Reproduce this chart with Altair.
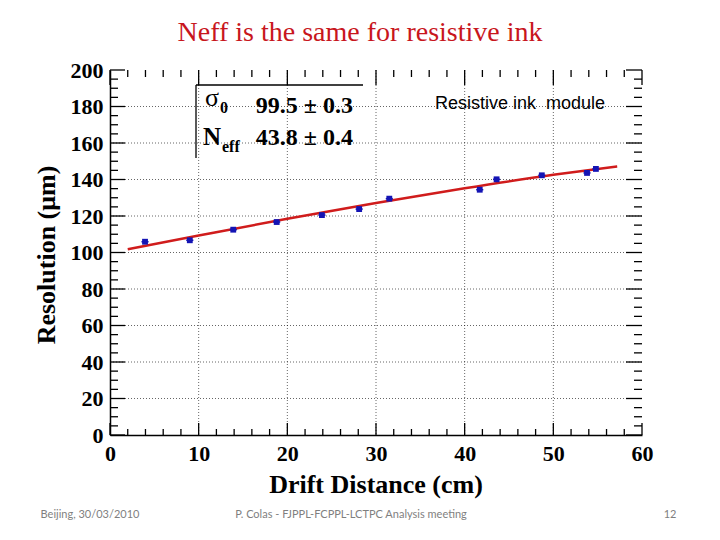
import altair as alt
import pandas as pd

# ---- data ----
drift = [3.95, 9.0, 13.9, 18.8, 23.9, 28.1, 31.5, 41.7, 43.6, 48.7, 53.8, 54.8]
resolution = [105.9, 106.7, 112.5, 116.7, 120.5, 123.8, 129.5, 134.4, 140.1, 142.3, 143.6, 145.8]
drift_err = [0.4] * 12

fit_drift = [2.0, 10.0, 20.0, 30.0, 40.0, 50.0, 57.2]
fit_resolution = [101.8, 109.3, 118.5, 127.1, 135.2, 142.6, 147.2]

x_major = [0, 10, 20, 30, 40, 50, 60]
x_minor = [v for v in range(0, 61, 2) if v % 10 != 0]
y_major = [0, 20, 40, 60, 80, 100, 120, 140, 160, 180, 200]
y_minor = [v for v in range(0, 201, 5) if v % 20 != 0]
x_grid = [10, 20, 30, 40, 50]
y_grid = [20, 40, 60, 80, 100, 120, 140, 160, 180]

W, H = 532, 365
SERIF = "Liberation Serif"
SANS = "Liberation Sans"

pts = pd.DataFrame({"d": drift, "r": resolution,
                    "lo": [a - e for a, e in zip(drift, drift_err)],
                    "hi": [a + e for a, e in zip(drift, drift_err)]})
fit = pd.DataFrame({"d": fit_drift, "r": fit_resolution})
one = pd.DataFrame({"k": [0]})

xs = alt.Scale(domain=[0, 60], nice=False, zero=False)
ys = alt.Scale(domain=[0, 200], nice=False, zero=False)

xaxis = alt.Axis(values=x_major, title=None, grid=False, ticks=False, tickSize=0,
                 domainColor="black", domainWidth=1.5, labelFont=SERIF, labelFontWeight="bold",
                 labelFontSize=22, labelColor="black", labelPadding=8, labelFlush=False,
                 labelOverlap=False)
yaxis = alt.Axis(values=y_major, title=None, grid=False, ticks=False, tickSize=0,
                 domainColor="black", domainWidth=1.5, labelFont=SERIF, labelFontWeight="bold",
                 labelFontSize=22, labelColor="black", labelPadding=7, labelFlush=False,
                 labelOverlap=False)


def df(vals):
    return pd.DataFrame({"v": vals})

def X(f):
    return alt.X(f, scale=xs, axis=xaxis)

def Y(f):
    return alt.Y(f, scale=ys, axis=yaxis)

base_axes = alt.Chart(pts).mark_point(opacity=0).encode(x=X("d:Q"), y=Y("r:Q"))

grid_style = dict(color="black", strokeDash=[1, 2], strokeWidth=1, opacity=0.6)
gx = alt.Chart(df(x_grid)).mark_rule(**grid_style).encode(x=X("v:Q"), y=alt.value(0), y2=alt.value(H))
gy = alt.Chart(df(y_grid)).mark_rule(**grid_style).encode(y=Y("v:Q"), x=alt.value(0), x2=alt.value(W))

tk = dict(color="black", strokeWidth=1.3)
ticks = [
    alt.Chart(df(y_major)).mark_rule(**tk).encode(y=Y("v:Q"), x=alt.value(0), x2=alt.value(15)),
    alt.Chart(df(y_minor)).mark_rule(**tk).encode(y=Y("v:Q"), x=alt.value(0), x2=alt.value(8)),
    alt.Chart(df(y_major)).mark_rule(**tk).encode(y=Y("v:Q"), x=alt.value(W - 16), x2=alt.value(W)),
    alt.Chart(df(y_minor)).mark_rule(**tk).encode(y=Y("v:Q"), x=alt.value(W - 8), x2=alt.value(W)),
    alt.Chart(df(x_major)).mark_rule(**tk).encode(x=X("v:Q"), y=alt.value(H - 12), y2=alt.value(H)),
    alt.Chart(df(x_minor)).mark_rule(**tk).encode(x=X("v:Q"), y=alt.value(H - 6), y2=alt.value(H)),
    alt.Chart(df(x_major)).mark_rule(**tk).encode(x=X("v:Q"), y=alt.value(0), y2=alt.value(15)),
    alt.Chart(df(x_minor)).mark_rule(**tk).encode(x=X("v:Q"), y=alt.value(0), y2=alt.value(7)),
]

err = alt.Chart(pts).mark_rule(color="#1414b4", strokeWidth=1.5).encode(
    x=X("lo:Q"), x2="hi:Q", y=Y("r:Q"))
line = alt.Chart(fit).mark_line(color="#d01c1c", strokeWidth=2.5, interpolate="monotone").encode(
    x=X("d:Q"), y=Y("r:Q"))
points = alt.Chart(pts).mark_point(filled=True, shape="square", color="#1414b4", size=34, opacity=1).encode(
    x=X("d:Q"), y=Y("r:Q"))

# stats box frame
box_l = alt.Chart(one).mark_rule(color="black", strokeWidth=1.3).encode(
    x=alt.value(86), y=alt.value(15), y2=alt.value(88))
box_t = alt.Chart(one).mark_rule(color="black", strokeWidth=1.3).encode(
    x=alt.value(86), x2=alt.value(253), y=alt.value(15))

def txt(s, x, y, size, font=SERIF, weight="normal", align="left", baseline="alphabetic",
        color="black", angle=0):
    kw = dict(text=s, fontSize=size, font=font, fontWeight=weight, align=align,
              baseline=baseline, color=color)
    if angle:
        kw["angle"] = angle
    return alt.Chart(one).mark_text(**kw).encode(x=alt.value(x), y=alt.value(y))

texts = [
    txt("Neff is the same for resistive ink", 250, -37, 28, color="#c8161d", align="center", baseline="middle"),
    txt("σ", 95, 36, 26),
    txt("0", 110, 43, 16, weight="bold"),
    txt("99.5 ± 0.3", 243, 43, 24, weight="bold", align="right"),
    txt("N", 93, 75, 25, weight="bold"),
    txt("eff", 112, 82, 16, weight="bold"),
    txt("43.8 ± 0.4", 243, 75, 24, weight="bold", align="right"),
    txt("Resistive ink\u00a0 module", 410, 34, 18, font=SANS, align="center", baseline="middle"),
    txt("Resolution (μm)", -63, 185, 26, weight="bold", align="center", baseline="middle", angle=270),
    txt("Drift Distance (cm)", 266, 415, 26, weight="bold", align="center", baseline="middle"),
    txt("Beijing, 30/03/2010", -20, 445, 11, font="Lato", align="center", baseline="middle", color="#7f7f7f"),
    txt("P. Colas  -  FJPPL-FCPPL-LCTPC Analysis meeting", 241, 445, 11, font="Lato", align="center",
        baseline="middle", color="#7f7f7f"),
    txt("12", 560, 445, 11, font="Lato", align="center", baseline="middle", color="#7f7f7f"),
]

chart = alt.layer(base_axes, gx, gy, *ticks, line, err, points, box_l, box_t, *texts).properties(
    width=W, height=H,
    autosize=alt.AutoSizeParams(type="none"),
    padding={"left": 102, "top": 62, "right": 66, "bottom": 90},
).configure_view(strokeOpacity=0)

chart.save("out.html", embed_options={"renderer": "svg", "actions": False})
